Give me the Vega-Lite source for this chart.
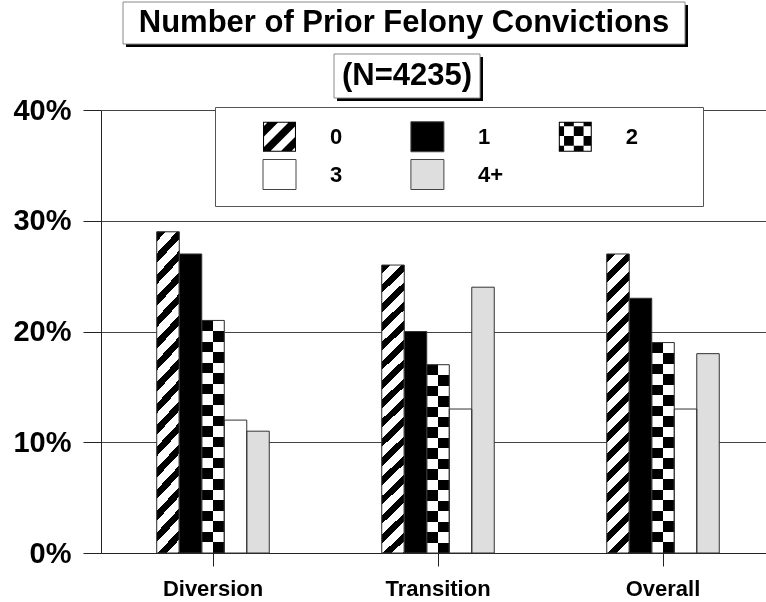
{
  "$schema": "https://vega.github.io/schema/vega-lite/v6.json",
  "background": "white",
  "padding": {"left": 12, "top": 1, "right": -30, "bottom": 0},
  "config": {"view": {"stroke": null}, "font": "Liberation Sans"},
  "spacing": -5,
  "vconcat": [
    {
      "spacing": 6,
      "vconcat": [
        {
          "spacing": 0,
          "hconcat": [
            {"width": 21, "height": 42, "data": {"values": [{"t": ""}]}, "mark": {"type": "rect", "fill": "transparent"}, "encoding": {}},
            {
              "width": 562,
              "height": 42,
              "data": {"values": [{"t": "Number of Prior Felony Convictions"}]},
              "layer": [
                {"mark": {"type": "rect", "fill": "#000", "xOffset": 3, "x2Offset": 3, "yOffset": 3, "y2Offset": 3}, "encoding": {"x": {"value": 0}, "x2": {"value": "width"}, "y": {"value": 0}, "y2": {"value": "height"}}},
                {"mark": {"type": "rect", "fill": "#fff", "stroke": "#888", "strokeWidth": 1}, "encoding": {"x": {"value": 0}, "x2": {"value": "width"}, "y": {"value": 0}, "y2": {"value": "height"}}},
                {"mark": {"type": "text", "font": "Liberation Sans", "fontSize": 31, "fontWeight": "bold", "fill": "#000"}, "encoding": {"text": {"field": "t"}}}
              ]
            }
          ]
        },
        {
          "spacing": 0,
          "hconcat": [
            {"width": 232, "height": 44, "data": {"values": [{"t": ""}]}, "mark": {"type": "rect", "fill": "transparent"}, "encoding": {}},
            {
              "width": 146,
              "height": 44,
              "data": {"values": [{"t": "(N=4235)"}]},
              "layer": [
                {"mark": {"type": "rect", "fill": "#000", "xOffset": 3, "x2Offset": 3, "yOffset": 3, "y2Offset": 3}, "encoding": {"x": {"value": 0}, "x2": {"value": "width"}, "y": {"value": 0}, "y2": {"value": "height"}}},
                {"mark": {"type": "rect", "fill": "#fff", "stroke": "#888", "strokeWidth": 1}, "encoding": {"x": {"value": 0}, "x2": {"value": "width"}, "y": {"value": 0}, "y2": {"value": "height"}}},
                {"mark": {"type": "text", "font": "Liberation Sans", "fontSize": 31, "fontWeight": "bold", "fill": "#000"}, "encoding": {"text": {"field": "t"}}}
              ]
            }
          ]
        }
      ]
    },
    {
      "width": 695,
      "height": 443,
      "data": {"values": [
        {"group": "Diversion", "priors": "0", "pct": 0.29},
        {"group": "Diversion", "priors": "1", "pct": 0.27},
        {"group": "Diversion", "priors": "2", "pct": 0.21},
        {"group": "Diversion", "priors": "3", "pct": 0.12},
        {"group": "Diversion", "priors": "4+", "pct": 0.11},
        {"group": "Transition", "priors": "0", "pct": 0.26},
        {"group": "Transition", "priors": "1", "pct": 0.20},
        {"group": "Transition", "priors": "2", "pct": 0.17},
        {"group": "Transition", "priors": "3", "pct": 0.13},
        {"group": "Transition", "priors": "4+", "pct": 0.24},
        {"group": "Overall", "priors": "0", "pct": 0.27},
        {"group": "Overall", "priors": "1", "pct": 0.23},
        {"group": "Overall", "priors": "2", "pct": 0.19},
        {"group": "Overall", "priors": "3", "pct": 0.13},
        {"group": "Overall", "priors": "4+", "pct": 0.18}
      ]},
      "encoding": {
        "x": {
          "field": "group", "type": "nominal",
          "sort": ["Diversion", "Transition", "Overall"],
          "scale": {"paddingInner": 0.5, "paddingOuter": 0.2944, "align": 0.4208},
          "axis": {"title": null, "labelAngle": 0, "bandPosition": 0.5, "tickSize": 13, "tickColor": "#222", "domainColor": "#222", "labelFont": "Liberation Sans", "labelFontSize": 22, "labelFontWeight": "bold", "labelColor": "#000", "labelPadding": 12, "grid": false}
        },
        "xOffset": {"field": "priors", "type": "nominal", "sort": ["0", "1", "2", "3", "4+"], "scale": {"paddingInner": 0, "paddingOuter": 0}},
        "y": {
          "field": "pct", "type": "quantitative",
          "scale": {"domain": [0, 0.4], "nice": false},
          "axis": {"title": null, "values": [0, 0.1, 0.2, 0.3, 0.4], "format": ".0%", "grid": true, "gridColor": "#444", "tickSize": 18, "tickColor": "#222", "domainColor": "#222", "labelFont": "Liberation Sans", "labelFontSize": 29, "labelFontWeight": "bold", "labelColor": "#000", "labelPadding": 12}
        }
      },
      "layer": [
        {
          "mark": {"type": "bar"},
          "encoding": {
            "fill": {
              "field": "priors", "type": "nominal",
              "scale": {"domain": ["0", "1", "2", "3", "4+", "oooor"], "range": ["#000", "#000", "#000", "#fff", "#dedede", "transparent"]},
              "legend": {
                "orient": "none", "legendX": 114, "legendY": 105,
                "direction": "horizontal", "columns": 3, "gridAlign": "all", "columnPadding": 15.9, "rowPadding": 3,
                "padding": 14, "strokeColor": "#555", "fillColor": "#fff",
                "symbolSize": 900,
                "labelFont": "Liberation Sans", "labelFontSize": 22, "labelFontWeight": "bold", "labelColor": "#000", "labelOffset": 35,
                "title": "0", "titleOrient": "left", "titleColor": "rgba(0,0,0,0)", "titleFontSize": 22, "titleFont": "Liberation Sans", "titleFontWeight": "bold", "titlePadding": 22,
                "encode": {
                  "symbols": {
                    "update": {
                      "shape": {"signal": "datum.value === '0' ? 'M-1.1,-1H1.1V-0.93H-1.1ZM-1.1,0.93H1.1V1H-1.1ZM-1.1,-1H-1.03V1H-1.1ZM1.03,-1H1.1V1H1.03ZM-0.75,-1L-0.05,-1L-1.1,0.05L-1.1,-0.65ZM0.65,-1L1.1,-1L1.1,-0.75L-0.65,1L-1.1,1L-1.1,0.75ZM1.1,-0.05L1.1,0.65L0.75,1L0.05,1Z' : datum.value === '2' ? 'M-1.1,-1H1.1V-0.93H-1.1ZM-1.1,0.93H1.1V1H-1.1ZM-1.1,-1H-1.03V1H-1.1ZM1.03,-1H1.1V1H1.03ZM-0.75,-1H-0.1V-0.7H-0.75ZM0.55,-1H1.1V-0.7H0.55ZM-1.1,-0.7H-0.75V-0.05H-1.1ZM-0.1,-0.7H0.55V-0.05H-0.1ZM-0.75,-0.05H-0.1V0.6H-0.75ZM0.55,-0.05H1.1V0.6H0.55ZM-1.1,0.6H-0.75V1H-1.1ZM-0.1,0.6H0.55V1H-0.1Z' : 'M-1.1,-1H1.1V1H-1.1Z'"},
                      "fill": {"signal": "datum.value === '3' ? '#fff' : datum.value === '4+' ? '#dedede' : datum.value === 'oooor' ? 'transparent' : '#000'"},
                      "stroke": {"signal": "datum.value === '0' || datum.value === '2' || datum.value === 'oooor' ? 'transparent' : '#444'"},
                      "strokeWidth": {"value": 1},
                      "opacity": {"value": 1}
                    }
                  },
                  "labels": {
                    "update": {
                      "opacity": {"signal": "datum.value === 'oooor' ? 0 : 1"}
                    }
                  }
                }
              }
            }
          }
        },
        {
          "transform": [{"filter": "datum.priors === '0'"}],
          "mark": {"type": "bar", "fill": {"gradient": "linear", "x1": 0, "y1": 0, "x2": 0.0901, "y2": 1.1972, "stops": [
            {"offset":0,"color":"#000"},{"offset":0.025,"color":"#000"},{"offset":0.025,"color":"#fff"},{"offset":0.0556,"color":"#fff"},
            {"offset":0.0556,"color":"#000"},{"offset":0.0806,"color":"#000"},{"offset":0.0806,"color":"#fff"},{"offset":0.1111,"color":"#fff"},
            {"offset":0.1111,"color":"#000"},{"offset":0.1361,"color":"#000"},{"offset":0.1361,"color":"#fff"},{"offset":0.1667,"color":"#fff"},
            {"offset":0.1667,"color":"#000"},{"offset":0.1917,"color":"#000"},{"offset":0.1917,"color":"#fff"},{"offset":0.2222,"color":"#fff"},
            {"offset":0.2222,"color":"#000"},{"offset":0.2472,"color":"#000"},{"offset":0.2472,"color":"#fff"},{"offset":0.2778,"color":"#fff"},
            {"offset":0.2778,"color":"#000"},{"offset":0.3028,"color":"#000"},{"offset":0.3028,"color":"#fff"},{"offset":0.3333,"color":"#fff"},
            {"offset":0.3333,"color":"#000"},{"offset":0.3583,"color":"#000"},{"offset":0.3583,"color":"#fff"},{"offset":0.3889,"color":"#fff"},
            {"offset":0.3889,"color":"#000"},{"offset":0.4139,"color":"#000"},{"offset":0.4139,"color":"#fff"},{"offset":0.4444,"color":"#fff"},
            {"offset":0.4444,"color":"#000"},{"offset":0.4694,"color":"#000"},{"offset":0.4694,"color":"#fff"},{"offset":0.5,"color":"#fff"},
            {"offset":0.5,"color":"#000"},{"offset":0.525,"color":"#000"},{"offset":0.525,"color":"#fff"},{"offset":0.5556,"color":"#fff"},
            {"offset":0.5556,"color":"#000"},{"offset":0.5806,"color":"#000"},{"offset":0.5806,"color":"#fff"},{"offset":0.6111,"color":"#fff"},
            {"offset":0.6111,"color":"#000"},{"offset":0.6361,"color":"#000"},{"offset":0.6361,"color":"#fff"},{"offset":0.6667,"color":"#fff"},
            {"offset":0.6667,"color":"#000"},{"offset":0.6917,"color":"#000"},{"offset":0.6917,"color":"#fff"},{"offset":0.7222,"color":"#fff"},
            {"offset":0.7222,"color":"#000"},{"offset":0.7472,"color":"#000"},{"offset":0.7472,"color":"#fff"},{"offset":0.7778,"color":"#fff"},
            {"offset":0.7778,"color":"#000"},{"offset":0.8028,"color":"#000"},{"offset":0.8028,"color":"#fff"},{"offset":0.8333,"color":"#fff"},
            {"offset":0.8333,"color":"#000"},{"offset":0.8583,"color":"#000"},{"offset":0.8583,"color":"#fff"},{"offset":0.8889,"color":"#fff"},
            {"offset":0.8889,"color":"#000"},{"offset":0.9139,"color":"#000"},{"offset":0.9139,"color":"#fff"},{"offset":0.9444,"color":"#fff"},
            {"offset":0.9444,"color":"#000"},{"offset":0.9694,"color":"#000"},{"offset":0.9694,"color":"#fff"},{"offset":1,"color":"#fff"}
          ]}}
        },
        {
          "transform": [{"filter": "datum.priors === '2'"}],
          "mark": {"type": "bar", "fill": {"gradient": "linear", "x1": 0, "y1": 0, "x2": 1, "y2": 0, "stops": [
            {"offset": 0, "color": "#000"}, {"offset": 0.5, "color": "#000"}, {"offset": 0.5, "color": "#fff"}, {"offset": 1, "color": "#fff"}
          ]}}
        },
        {
          "transform": [{"filter": "datum.priors === '2'"}],
          "mark": {"type": "bar", "blend": "difference"},
          "encoding": {
            "fill": {
              "condition": [
                {"test": "datum.group === 'Diversion'", "value": {"gradient": "linear", "x1": 0, "y1": 0, "x2": 0, "y2": 1, "stops": [
                  {"offset":0,"color":"#000"},{"offset":0.0455,"color":"#000"},{"offset":0.0455,"color":"#fff"},{"offset":0.0909,"color":"#fff"},
                  {"offset":0.0909,"color":"#000"},{"offset":0.1364,"color":"#000"},{"offset":0.1364,"color":"#fff"},{"offset":0.1818,"color":"#fff"},
                  {"offset":0.1818,"color":"#000"},{"offset":0.2273,"color":"#000"},{"offset":0.2273,"color":"#fff"},{"offset":0.2727,"color":"#fff"},
                  {"offset":0.2727,"color":"#000"},{"offset":0.3182,"color":"#000"},{"offset":0.3182,"color":"#fff"},{"offset":0.3636,"color":"#fff"},
                  {"offset":0.3636,"color":"#000"},{"offset":0.4091,"color":"#000"},{"offset":0.4091,"color":"#fff"},{"offset":0.4545,"color":"#fff"},
                  {"offset":0.4545,"color":"#000"},{"offset":0.5,"color":"#000"},{"offset":0.5,"color":"#fff"},{"offset":0.5455,"color":"#fff"},
                  {"offset":0.5455,"color":"#000"},{"offset":0.5909,"color":"#000"},{"offset":0.5909,"color":"#fff"},{"offset":0.6364,"color":"#fff"},
                  {"offset":0.6364,"color":"#000"},{"offset":0.6818,"color":"#000"},{"offset":0.6818,"color":"#fff"},{"offset":0.7273,"color":"#fff"},
                  {"offset":0.7273,"color":"#000"},{"offset":0.7727,"color":"#000"},{"offset":0.7727,"color":"#fff"},{"offset":0.8182,"color":"#fff"},
                  {"offset":0.8182,"color":"#000"},{"offset":0.8636,"color":"#000"},{"offset":0.8636,"color":"#fff"},{"offset":0.9091,"color":"#fff"},
                  {"offset":0.9091,"color":"#000"},{"offset":0.9545,"color":"#000"},{"offset":0.9545,"color":"#fff"},{"offset":1,"color":"#fff"}
                ]}},
                {"test": "datum.group === 'Transition'", "value": {"gradient": "linear", "x1": 0, "y1": 0, "x2": 0, "y2": 1, "stops": [
                  {"offset":0,"color":"#000"},{"offset":0.0556,"color":"#000"},{"offset":0.0556,"color":"#fff"},{"offset":0.1111,"color":"#fff"},
                  {"offset":0.1111,"color":"#000"},{"offset":0.1667,"color":"#000"},{"offset":0.1667,"color":"#fff"},{"offset":0.2222,"color":"#fff"},
                  {"offset":0.2222,"color":"#000"},{"offset":0.2778,"color":"#000"},{"offset":0.2778,"color":"#fff"},{"offset":0.3333,"color":"#fff"},
                  {"offset":0.3333,"color":"#000"},{"offset":0.3889,"color":"#000"},{"offset":0.3889,"color":"#fff"},{"offset":0.4444,"color":"#fff"},
                  {"offset":0.4444,"color":"#000"},{"offset":0.5,"color":"#000"},{"offset":0.5,"color":"#fff"},{"offset":0.5556,"color":"#fff"},
                  {"offset":0.5556,"color":"#000"},{"offset":0.6111,"color":"#000"},{"offset":0.6111,"color":"#fff"},{"offset":0.6667,"color":"#fff"},
                  {"offset":0.6667,"color":"#000"},{"offset":0.7222,"color":"#000"},{"offset":0.7222,"color":"#fff"},{"offset":0.7778,"color":"#fff"},
                  {"offset":0.7778,"color":"#000"},{"offset":0.8333,"color":"#000"},{"offset":0.8333,"color":"#fff"},{"offset":0.8889,"color":"#fff"},
                  {"offset":0.8889,"color":"#000"},{"offset":0.9444,"color":"#000"},{"offset":0.9444,"color":"#fff"},{"offset":1,"color":"#fff"}
                ]}}
              ],
              "value": {"gradient": "linear", "x1": 0, "y1": 0, "x2": 0, "y2": 1, "stops": [
                {"offset":0,"color":"#000"},{"offset":0.05,"color":"#000"},{"offset":0.05,"color":"#fff"},{"offset":0.1,"color":"#fff"},
                {"offset":0.1,"color":"#000"},{"offset":0.15,"color":"#000"},{"offset":0.15,"color":"#fff"},{"offset":0.2,"color":"#fff"},
                {"offset":0.2,"color":"#000"},{"offset":0.25,"color":"#000"},{"offset":0.25,"color":"#fff"},{"offset":0.3,"color":"#fff"},
                {"offset":0.3,"color":"#000"},{"offset":0.35,"color":"#000"},{"offset":0.35,"color":"#fff"},{"offset":0.4,"color":"#fff"},
                {"offset":0.4,"color":"#000"},{"offset":0.45,"color":"#000"},{"offset":0.45,"color":"#fff"},{"offset":0.5,"color":"#fff"},
                {"offset":0.5,"color":"#000"},{"offset":0.55,"color":"#000"},{"offset":0.55,"color":"#fff"},{"offset":0.6,"color":"#fff"},
                {"offset":0.6,"color":"#000"},{"offset":0.65,"color":"#000"},{"offset":0.65,"color":"#fff"},{"offset":0.7,"color":"#fff"},
                {"offset":0.7,"color":"#000"},{"offset":0.75,"color":"#000"},{"offset":0.75,"color":"#fff"},{"offset":0.8,"color":"#fff"},
                {"offset":0.8,"color":"#000"},{"offset":0.85,"color":"#000"},{"offset":0.85,"color":"#fff"},{"offset":0.9,"color":"#fff"},
                {"offset":0.9,"color":"#000"},{"offset":0.95,"color":"#000"},{"offset":0.95,"color":"#fff"},{"offset":1,"color":"#fff"}
              ]}
            }
          }
        },
        {
          "mark": {"type": "bar", "fill": "transparent", "stroke": "#333", "strokeWidth": 1}
        }
      ]
    }
  ]
}
